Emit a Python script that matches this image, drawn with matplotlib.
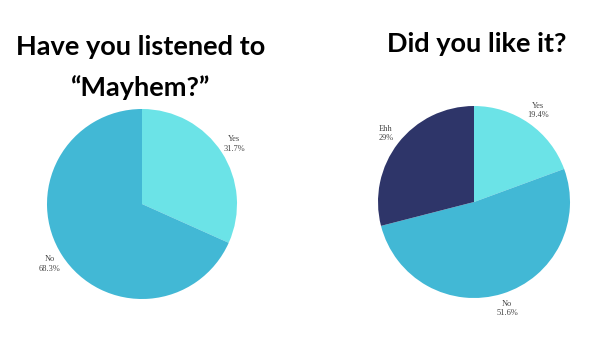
import matplotlib.pyplot as plt

# survey results
q1_labels = ["Yes", "No"]
q1_values = [31.7, 68.3]
q2_labels = ["Yes", "No", "Ehh"]
q2_values = [19.4, 51.6, 29]

light = "#6be3e7"
mid = "#42b8d5"
navy = "#2e3569"
q1_colors = [light, mid]
q2_colors = [light, mid, navy]

W, H = 600, 337
fig = plt.figure(figsize=(W / 100, H / 100), dpi=100)
fig.patch.set_facecolor("white")


def add_pie(cx, cy, r, values, names, colors):
    ax = fig.add_axes([(cx - r) / W, (H - cy - r) / H, 2 * r / W, 2 * r / H])
    labels = [f"{n}\n{v:g}%" for n, v in zip(names, values)]
    wedges, texts = ax.pie(values, labels=labels, colors=colors, startangle=90,
                           counterclock=False, labeldistance=1.16,
                           wedgeprops=dict(linewidth=0),
                           textprops=dict(fontsize=6, color="#444444",
                                          family="Liberation Serif",
                                          ha="center", va="center",
                                          linespacing=1.2))
    ax.set_xlim(-1, 1)
    ax.set_ylim(-1, 1)
    ax.set_aspect("equal")
    return ax


add_pie(142, 204, 95, q1_values, q1_labels, q1_colors)
add_pie(474, 202, 96, q2_values, q2_labels, q2_colors)

title_kw = dict(fontsize=19.5, fontweight="bold", family="Lato", color="black",
                ha="center", va="baseline")
fig.text(141 / W, 1 - 55 / H, "Have you listened to", **title_kw)
fig.text(141 / W, 1 - 96 / H, "\u201cMayhem?\u201d", **title_kw)
fig.text(477 / W, 1 - 52 / H, "Did you like it?", **title_kw)

fig.savefig("out.png", dpi=100, facecolor="white")
